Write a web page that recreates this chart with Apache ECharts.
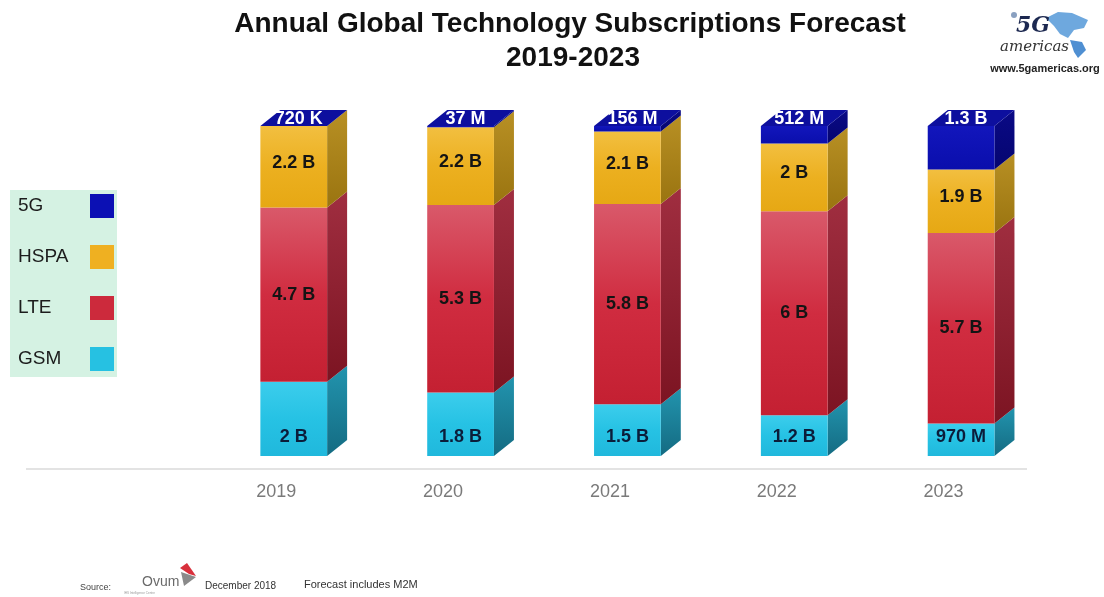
<!DOCTYPE html>
<html>
<head>
<meta charset="utf-8">
<script src="https://cdn.jsdelivr.net/npm/echarts@6/dist/echarts.min.js"></script>
<style>
  html, body { margin: 0; padding: 0; background: #ffffff; }
  #chart { width: 1104px; height: 597px; }
</style>
</head>
<body>
<div id="chart"></div>
<script>
// Subscriptions per technology, in millions
const years = ['2019', '2020', '2021', '2022', '2023'];
const gsm = [2000, 1800, 1500, 1200, 970];
const lte = [4700, 5300, 5800, 6000, 5700];
const hspa = [2200, 2200, 2100, 2000, 1900];
const fiveG = [0.72, 37, 156, 512, 1300];

const seriesNames = ['GSM', 'LTE', 'HSPA', '5G'];
const legendOrder = ['5G', 'HSPA', 'LTE', 'GSM'];

// Value text like "720 K", "37 M", "1.3 B"
function fmt(v) {
  if (v >= 1000) return (Math.round(v / 100) / 10) + ' B';
  if (v >= 1) return Math.round(v) + ' M';
  return Math.round(v * 1000) + ' K';
}

// Share of each year's total, stacked bottom-up
const stackRows = [gsm, lte, hspa, fiveG];
const totals = years.map((_, i) => stackRows.reduce((s, r) => s + r[i], 0));
const stacked = [];
const running = years.map(() => 0);
stackRows.forEach((row) => {
  stacked.push(row.map((v, i) => {
    const start = running[i];
    const end = start + v / totals[i] * 100;
    running[i] = end;
    return [i, start, end, v];
  }));
});

function vgrad(stops) {
  return new echarts.graphic.LinearGradient(0, 0, 0, 1,
    stops.map((c, k) => ({ offset: k / (stops.length - 1), color: c })));
}

const looks = {
  GSM:  { legend: '#26c1e2', front: ['#3ccdec', '#26c2e4', '#20b8dc'], side: ['#2294ae', '#146b82'], label: '#0b1d3a', place: 'bottom' },
  LTE:  { legend: '#cc2a3c', front: ['#d9596a', '#d02c40', '#c42032'], side: ['#a02e40', '#7c1422'], label: '#141414', place: 'middle', lift: 0 },
  HSPA: { legend: '#efb021', front: ['#f2bf40', '#ecb020', '#e6a814'], side: ['#b89024', '#9a7410'], label: '#141414', place: 'middle', lift: 4 },
  '5G': { legend: '#0b10b4', front: ['#1216bc', '#0a0eac'], side: ['#0a0a86', '#050570'], topFace: '#0d0f9e', label: '#ffffff', place: 'top' }
};

function makeRender(look) {
  return function (params, api) {
    const idx = api.value(0);
    const raw = api.value(3);
    const lo = api.coord([idx, api.value(1)]);
    const hi = api.coord([idx, api.value(2)]);
    const peak = api.coord([idx, 100]);
    const band = api.size([1, 0])[0];
    const w = band * 0.4;
    const cx = lo[0] + band * 0.105;
    const x0 = cx - w / 2, x1 = cx + w / 2;
    const yB = lo[1], yT = hi[1];
    const dx = 20, dy = 16;
    const kids = [
      { type: 'polygon', shape: { points: [[x1, yB], [x1, yT], [x1 + dx, yT - dy], [x1 + dx, yB - dy]] },
        style: { fill: vgrad(look.side) } },
      { type: 'rect', shape: { x: x0, y: yT, width: w, height: Math.max(0, yB - yT) },
        style: { fill: vgrad(look.front) } }
    ];
    if (look.topFace) {
      kids.push({ type: 'polygon', shape: { points: [[x0, yT], [x1, yT], [x1 + dx, yT - dy], [x0 + dx, yT - dy]] },
        style: { fill: look.topFace } });
    }
    let lx = cx, ly;
    if (look.place === 'bottom') ly = yB - 19;
    else if (look.place === 'top') { ly = peak[1] - 7; lx = cx + 5; }
    else ly = (yB + yT) / 2 - look.lift;
    kids.push({ type: 'text', z2: 10, style: {
      text: fmt(raw), x: lx, y: ly,
      align: 'center', verticalAlign: 'middle',
      textAlign: 'center', textVerticalAlign: 'middle',
      font: 'bold 18px Arial, "Liberation Sans", sans-serif', fill: look.label } });
    return { type: 'group', children: kids };
  };
}

const chart = echarts.init(document.getElementById('chart'), null, { renderer: 'canvas' });

const option = {
  animation: false,
  backgroundColor: '#ffffff',
  grid: { left: 192.8, right: 77, top: 126, bottom: 141 },
  xAxis: {
    type: 'category',
    data: years,
    axisLine: { show: false },
    axisTick: { show: false },
    axisLabel: { color: '#7a7a7a', fontSize: 18, fontFamily: 'Arial, "Liberation Sans", sans-serif', margin: 27 }
  },
  yAxis: { type: 'value', min: 0, max: 100, show: false },
  legend: {
    orient: 'vertical',
    left: 10,
    top: 190,
    align: 'right',
    icon: 'rect',
    itemWidth: 24,
    itemHeight: 24,
    itemGap: 27,
    padding: [4, 3, 6, 8],
    backgroundColor: '#d5f2e3',
    selectedMode: false,
    data: legendOrder,
    formatter: '{a|{name}}',
    textStyle: {
      color: '#1c1c1c',
      fontSize: 19,
      fontFamily: 'Arial, "Liberation Sans", sans-serif',
      rich: { a: { width: 67, align: 'left', fontSize: 19, color: '#1c1c1c', fontFamily: 'Arial, "Liberation Sans", sans-serif' } }
    }
  },
  series: seriesNames.map((name, k) => ({
    type: 'custom',
    name: name,
    clip: false,
    renderItem: makeRender(looks[name]),
    itemStyle: { color: looks[name].legend },
    encode: { x: 0, y: [1, 2] },
    data: stacked[k]
  })),
  graphic: [
    // baseline
    { type: 'line', shape: { x1: 26, y1: 469, x2: 1027, y2: 469 }, style: { stroke: '#e3e3e3', lineWidth: 2 }, silent: true },
    // title
    { type: 'text', x: 570, y: 24, style: { text: 'Annual Global Technology Subscriptions Forecast', align: 'center', verticalAlign: 'middle',
        font: 'bold 28px Arial, "Liberation Sans", sans-serif', fill: '#111' } },
    { type: 'text', x: 573, y: 58, style: { text: '2019-2023', align: 'center', verticalAlign: 'middle',
        font: 'bold 28px Arial, "Liberation Sans", sans-serif', fill: '#111' } },
    // 5G Americas mark
    { type: 'polygon', shape: { points: [[1046, 18], [1058, 12], [1072, 13], [1088, 20], [1084, 28], [1074, 30], [1068, 38], [1060, 34], [1054, 26]] },
      style: { fill: '#6ea8de' } },
    { type: 'polygon', shape: { points: [[1070, 40], [1082, 42], [1086, 50], [1078, 58], [1074, 52]] },
      style: { fill: '#4f8fd2' } },
    { type: 'circle', shape: { cx: 1014, cy: 15, r: 3 }, style: { fill: '#8aa0c0' } },
    { type: 'text', x: 1016, y: 26, style: { text: '5G', align: 'left', verticalAlign: 'middle',
        font: 'italic bold 22px "DejaVu Serif", serif', fill: '#1c2850' } },
    { type: 'text', x: 1000, y: 47, style: { text: 'americas', align: 'left', verticalAlign: 'middle',
        font: 'italic 15px "DejaVu Serif", serif', fill: '#333' } },
    { type: 'text', x: 1045, y: 69, style: { text: 'www.5gamericas.org', align: 'center', verticalAlign: 'middle',
        font: 'bold 11px Arial, "Liberation Sans", sans-serif', fill: '#222' } },
    // footer
    { type: 'text', x: 80, y: 588, style: { text: 'Source:', align: 'left', verticalAlign: 'middle',
        font: '9px Arial, "Liberation Sans", sans-serif', fill: '#444' } },
    { type: 'text', x: 142, y: 582, style: { text: 'Ovum', align: 'left', verticalAlign: 'middle',
        font: '14px Arial, "Liberation Sans", sans-serif', fill: '#6a6a6a' } },
    { type: 'text', x: 124, y: 593, style: { text: 'IHS Intelligence Centre', align: 'left', verticalAlign: 'middle',
        font: '3px Arial, "Liberation Sans", sans-serif', fill: '#999' } },
    { type: 'polygon', shape: { points: [[181, 572], [196, 577], [184, 586]] }, style: { fill: '#8a8a8a' } },
    { type: 'polygon', shape: { points: [[180, 568], [187, 563], [196, 576], [189, 574]] }, style: { fill: '#d8303c' } },
    { type: 'text', x: 205, y: 586, style: { text: 'December 2018', align: 'left', verticalAlign: 'middle',
        font: '10px Arial, "Liberation Sans", sans-serif', fill: '#333' } },
    { type: 'text', x: 304, y: 585, style: { text: 'Forecast includes M2M', align: 'left', verticalAlign: 'middle',
        font: '11px Arial, "Liberation Sans", sans-serif', fill: '#333' } }
  ]
};

chart.setOption(option);
</script>
</body>
</html>
